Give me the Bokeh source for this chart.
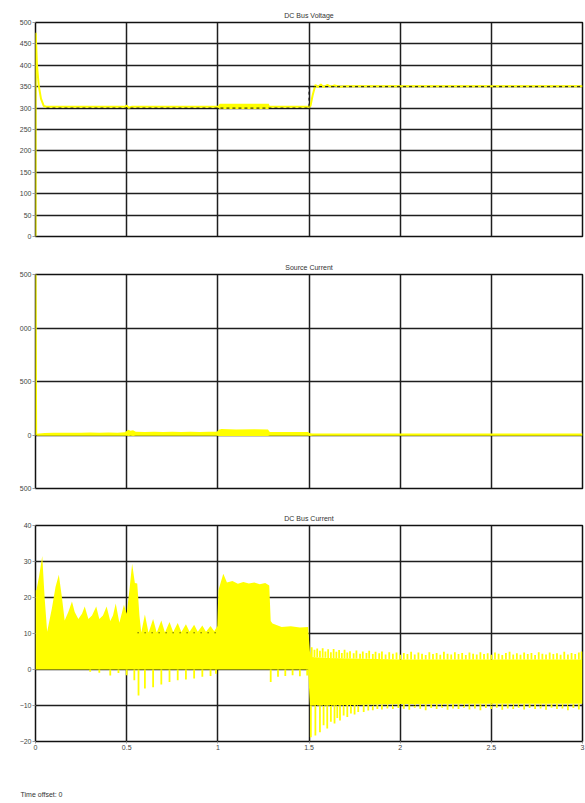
from bokeh.plotting import figure
from bokeh.layouts import column
from bokeh.models import Range1d, FixedTicker
from bokeh.embed import file_html
from bokeh.resources import INLINE
import numpy as np

YELLOW = "#ffff00"
FONT = "Liberation Sans"
GRID = "#1e1e1e"

# ---------------- data ----------------
x_ticks = [0, 0.5, 1, 1.5, 2, 2.5, 3]
x_labels = {0: "0", 0.5: "0.5", 1: "1", 1.5: "1.5", 2: "2", 2.5: "2.5", 3: "3"}

# DC Bus Voltage
v_ticks = [0, 50, 100, 150, 200, 250, 300, 350, 400, 450, 500]
v_t = [0, 0.001, 0.008, 0.018, 0.03, 0.045, 0.06, 0.49, 0.5, 0.51, 0.53, 1.0, 1.5,
       1.508, 1.52, 1.535, 1.55, 1.565, 1.58, 1.6, 1.62, 1.64, 1.67, 1.7, 3.0]
v_val = [0, 476, 400, 352, 322, 305, 303, 303, 306, 301, 303, 303, 303,
         305, 330, 354, 349, 355, 349, 354, 350, 353, 350, 351, 351]
v_band_t = [1.0, 1.01, 1.28, 1.285]
v_band_hi = [303, 310, 310, 303]
v_band_lo = [303, 298, 298, 303]
v_ref_t = [0.06, 1.5, 1.5, 3.0]
v_ref = [300, 300, 350, 350]

# Source Current
s_ticks = [-500, 0, 500, 1000, 1500]
s_labels = {-500: "500", 0: "0", 500: "500", 1000: "000", 1500: "500"}
s_t = [0, 0.0015, 0.005]
s_val = [0, 1520, 8]
s_bt = [0.005, 0.05, 0.1, 0.15, 0.2, 0.25, 0.3, 0.35, 0.4, 0.45, 0.49, 0.5, 0.51,
        0.52, 0.535, 0.55, 0.6, 0.65, 0.7, 0.75, 0.8, 0.85, 0.9, 0.95, 0.995, 1.005,
        1.02, 1.1, 1.2, 1.275, 1.285, 1.35, 1.42, 1.495, 1.505, 1.52, 3.0]
s_hi = [12, 18, 22, 20, 22, 20, 23, 21, 24, 22, 26, 38, 48,
        40, 45, 30, 28, 31, 27, 30, 27, 30, 27, 30, 30, 48,
        55, 52, 54, 52, 28, 27, 28, 27, 16, 14, 14]
s_lo = [-6, -8, -7, -8, -7, -8, -7, -8, -7, -8, -7, -8, -10,
        -8, -9, -8, -8, -8, -8, -8, -8, -8, -8, -8, -8, -10,
        -10, -9, -10, -9, -8, -8, -8, -8, -9, -8, -8]

# DC Bus Current
c_ticks = [-20, -10, 0, 10, 20, 30, 40]
c_t = [0, 0.005, 0.02, 0.037, 0.05, 0.064, 0.09, 0.11, 0.128, 0.145, 0.16, 0.18,
       0.2, 0.215, 0.235, 0.255, 0.27, 0.29, 0.31, 0.333, 0.35, 0.37, 0.39, 0.41,
       0.425, 0.44, 0.46, 0.475, 0.485, 0.5, 0.515, 0.53, 0.545, 0.558, 0.57, 0.58,
       0.6, 0.62, 0.645, 0.665, 0.69, 0.71, 0.735, 0.755, 0.78, 0.8, 0.825, 0.845,
       0.87, 0.89, 0.915, 0.935, 0.96, 0.98, 0.997, 1.003, 1.03, 1.05, 1.08, 1.11,
       1.14, 1.17, 1.2, 1.23, 1.26, 1.282, 1.29, 1.3, 1.35, 1.4, 1.45, 1.495,
       1.505, 1.515, 1.6, 1.8, 2.0, 2.5, 3.0]
c_up = [22, 22, 26, 31.5, 20, 10.5, 17, 23, 26.3, 20, 13.6, 16,
        18.9, 16, 14, 15.5, 17.5, 14, 15, 17.5, 14, 15, 17.5, 13.5,
        15, 18.3, 13, 16, 18, 15.5, 22, 29.4, 24, 23.9, 15, 10.3,
        15.3, 10.2, 14, 10.3, 13.6, 10.3, 13.2, 10.4, 12.9, 10.4, 12.6, 10.5,
        12.4, 10.5, 12.2, 10.5, 12.1, 10.6, 12, 22, 26.6, 24.2, 24.6, 23.8,
        24.3, 23.9, 24.2, 23.7, 24.0, 23.3, 13.5, 12.8, 11.8, 12.0, 11.7, 11.8,
        5, 3.5, 3.2, 3.0, 2.8, 2.8, 2.8]
c_lo = [0, 0, 0, 0, 0, 0, 0, 0, 0, 0, 0, 0,
        0, 0, 0, 0, 0, 0, 0, 0, 0, 0, 0, 0,
        0, 0, 0, 0, 0, 0, 0, 0, 0, 0, 0, 0,
        0, 0, 0, 0, 0, 0, 0, 0, 0, 0, 0, 0,
        0, 0, 0, 0, 0, 0, 0, 0, 0, 0, 0, 0,
        0, 0, 0, 0, 0, 0, 0, 0, 0, 0, 0, 0,
        -10, -10, -10, -9.8, -9.6, -9.5, -9.5]

c_dn_t = [0.3, 0.35, 0.41, 0.455, 0.5, 0.542, 0.565, 0.6, 0.645, 0.69, 0.735, 0.78,
          0.825, 0.87, 0.915, 0.96, 0.99, 1.29, 1.33, 1.37, 1.41, 1.45, 1.49,
          1.51, 1.535, 1.56, 1.58, 1.6, 1.62, 1.64, 1.655, 1.67, 1.69, 1.71, 1.73,
          1.75, 1.77, 1.8, 1.825, 1.85, 1.875, 1.9, 1.93, 1.96, 1.99, 2.02, 2.05,
          2.08, 2.11, 2.14, 2.17, 2.2, 2.23, 2.26, 2.29, 2.32, 2.35, 2.38, 2.41,
          2.44, 2.47, 2.5, 2.53, 2.56, 2.59, 2.62, 2.65, 2.68, 2.71, 2.74, 2.77,
          2.8, 2.83, 2.86, 2.89, 2.92, 2.95, 2.98]
c_dn = [-0.6, -0.9, -1.7, -1.0, -1.6, -3.0, -7.2, -5.3, -4.9, -4.2, -3.5, -3.0,
        -2.8, -2.5, -2.0, -1.8, -1.2, -3.5, -2.0, -1.8, -1.6, -1.9, -1.7,
        -18.8, -18.3, -17.4, -15.5, -16.4, -14.5, -15.0, -13.5, -14.2, -12.8, -13.2, -12.2,
        -12.5, -11.8, -11.8, -11.4, -11.3, -11.0, -11.1, -10.8, -11.0, -10.7, -10.9, -11.2,
        -10.6, -10.9, -11.3, -10.7, -11.0, -10.6, -11.2, -10.8, -11.0, -10.6, -11.1, -10.8,
        -11.3, -10.7, -11.0, -10.6, -11.2, -10.8, -11.0, -10.6, -11.1, -10.7, -11.0, -10.8,
        -11.2, -10.6, -11.0, -10.8, -11.3, -10.7, -11.1]

c_upk_t = [1.515, 1.53, 1.545, 1.56, 1.575, 1.59, 1.605, 1.62, 1.635, 1.65, 1.665,
           1.68, 1.695, 1.71, 1.725, 1.745, 1.76, 1.78, 1.795, 1.815, 1.83, 1.85,
           1.865, 1.885, 1.9, 1.92, 1.94, 1.96, 1.98, 2.0, 2.02, 2.04, 2.06, 2.08,
           2.1, 2.12, 2.14, 2.16, 2.18, 2.2, 2.22, 2.24, 2.26, 2.28, 2.3, 2.32, 2.34,
           2.36, 2.38, 2.4, 2.42, 2.44, 2.46, 2.48, 2.5, 2.52, 2.54, 2.56, 2.58, 2.6,
           2.62, 2.64, 2.66, 2.68, 2.7, 2.72, 2.74, 2.76, 2.78, 2.8, 2.82, 2.84, 2.86,
           2.88, 2.9, 2.92, 2.94, 2.96, 2.98, 2.995]
c_upk = [6.2, 5.5, 5.8, 5.2, 5.9, 5.0, 5.6, 4.8, 5.7, 4.9, 5.4,
         4.6, 5.5, 4.7, 5.1, 4.5, 5.3, 4.4, 5.0, 4.6, 5.2, 4.3,
         4.9, 4.5, 5.0, 4.2, 4.8, 4.4, 4.7, 4.1, 4.6, 4.3, 4.9, 4.2,
         4.7, 4.4, 4.0, 4.8, 4.3, 4.6, 4.1, 4.9, 4.4, 4.2, 4.8, 4.3, 4.6,
         4.0, 4.7, 4.4, 4.2, 4.8, 4.3, 4.5, 4.1, 4.7, 4.4, 4.0, 4.6, 4.9,
         4.2, 4.5, 4.1, 4.7, 4.3, 4.6, 4.0, 4.8, 4.4, 4.2, 4.7, 4.3, 4.5,
         4.1, 4.9, 4.2, 4.6, 4.3, 4.7, 5.0]
c_ref1_t = [0.56, 1.0]
c_ref1 = [10.2, 10.2]
c_ref2_t = [1.5, 3.0]
c_ref2 = [-10, -10]


def make_fig(h, top, bottom, yr, yticks, title, show_x):
    p = figure(width=585, height=h, x_range=Range1d(0, 3), y_range=Range1d(*yr),
               output_backend="svg", toolbar_location=None,
               min_border_left=35, min_border_right=3,
               min_border_top=top, min_border_bottom=bottom)
    p.title.text = title
    p.title.align = "center"
    p.title.text_font = FONT
    p.title.text_font_size = "7px"
    p.title.text_font_style = "normal"
    p.title.text_color = "#333333"
    p.title.standoff = 8
    p.outline_line_color = "#111111"
    p.outline_line_width = 1.5
    for ax in p.yaxis:
        ax.ticker = FixedTicker(ticks=yticks)
        ax.axis_line_color = None
        ax.major_tick_out = 3
        ax.major_tick_in = 0
        ax.minor_tick_out = 0
        ax.minor_tick_in = 0
        ax.major_tick_line_color = "#999999"
        ax.major_label_text_font = FONT
        ax.major_label_text_font_size = "7px"
        ax.major_label_text_color = "#444444"
        ax.major_label_standoff = 1
    p.ygrid.ticker = FixedTicker(ticks=yticks)
    p.xgrid.ticker = FixedTicker(ticks=x_ticks)
    for g in (p.xgrid, p.ygrid):
        g.grid_line_color = GRID
        g.grid_line_width = 1.5
        g.grid_line_alpha = 1.0
    for ax in p.xaxis:
        ax.ticker = FixedTicker(ticks=x_ticks)
        ax.axis_line_color = None
        ax.minor_tick_out = 0
        ax.minor_tick_in = 0
        if show_x:
            ax.major_tick_out = 2
            ax.major_tick_in = 0
            ax.major_tick_line_color = "#999999"
            ax.major_label_text_font = FONT
            ax.major_label_text_font_size = "7px"
            ax.major_label_text_color = "#444444"
            ax.major_label_standoff = 1
            ax.major_label_overrides = x_labels
        else:
            ax.visible = False
    return p


# ---- DC Bus Voltage ----
p1 = make_fig(256, 22, 20, (0, 500), v_ticks, "DC Bus Voltage", False)
p1.varea(x=v_band_t, y1=v_band_lo, y2=v_band_hi, color=YELLOW)
p1.line(v_t, v_val, line_color=YELLOW, line_width=2)
p1.line(v_ref_t, v_ref, line_color="#111111", line_width=1, line_dash="3 3")

# ---- Source Current ----
p2 = make_fig(252, 18, 20, (-500, 1500), s_ticks, "Source Current", False)
p2.yaxis[0].major_label_overrides = s_labels
p2.varea(x=s_bt, y1=s_lo, y2=s_hi, color=YELLOW)
p2.line(s_t, s_val, line_color=YELLOW, line_width=1.5)

# ---- DC Bus Current ----
p3 = make_fig(253, 17, 20, (-20, 40), c_ticks, "DC Bus Current", True)
p3.varea(x=c_t, y1=c_lo, y2=c_up, color=YELLOW)
dn_base = np.interp(c_dn_t, c_t, c_lo)
up_base = np.interp(c_upk_t, c_t, c_up)
p3.segment(x0=c_dn_t, y0=dn_base, x1=c_dn_t, y1=c_dn, line_color=YELLOW, line_width=1.8)
p3.segment(x0=c_upk_t, y0=up_base, x1=c_upk_t, y1=c_upk, line_color=YELLOW, line_width=1.8)
p3.line(c_ref1_t, c_ref1, line_color="#111111", line_width=1, line_dash="1 6")
p3.line(c_ref2_t, c_ref2, line_color="#111111", line_width=1, line_dash="1 6")

# ---- footer: time offset text ----
p4 = figure(width=585, height=42, x_range=Range1d(0, 3), y_range=Range1d(0, 1),
            output_backend="svg", toolbar_location=None,
            x_axis_location=None, y_axis_location=None,
            min_border_left=35, min_border_right=3,
            min_border_top=37, min_border_bottom=0)
p4.outline_line_color = None
p4.xgrid.visible = False
p4.ygrid.visible = False
p4.title.text = "Time offset: 0"
p4.title.align = "left"
p4.title.offset = -15
p4.title.standoff = 2
p4.title.text_font = FONT
p4.title.text_font_size = "7px"
p4.title.text_font_style = "normal"
p4.title.text_color = "#333333"

layout = column(p1, p2, p3, p4, spacing=0)
open("out.html", "w").write(file_html(layout, INLINE))
